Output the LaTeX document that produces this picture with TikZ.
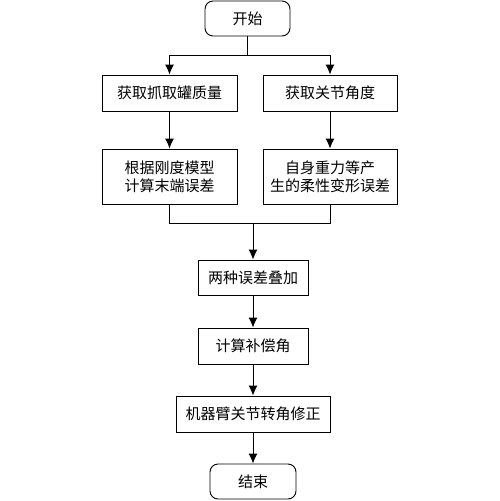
\documentclass[tikz,border=0pt]{standalone}
\usepackage{fontspec}
\newfontfamily\cjk{Noto Sans CJK SC}
\usetikzlibrary{arrows.meta}
\begin{document}
\begin{tikzpicture}[x=1pt,y=-1pt,
  box/.style={draw,line width=0.9pt,inner sep=0pt,font=\cjk\fontsize{15}{18}\selectfont,align=center},
  term/.style={box,rounded corners=8pt},
  arr/.style={line width=0.9pt,-{Latex[length=10pt,width=9pt]}},
  ln/.style={line width=0.9pt}]
\useasboundingbox (0,0) rectangle (500,501);
\node[term,minimum width=85pt,minimum height=35pt] (start) at (247.5,18.5) {开始};
\node[box,minimum width=135pt,minimum height=36pt] (l1) at (169.5,93) {获取抓取罐质量};
\node[box,minimum width=134pt,minimum height=36pt] (r1) at (330,93) {获取关节角度};
\node[box,minimum width=135pt,minimum height=55pt] (l2) at (169.5,176.5) {根据刚度模型\\计算末端误差};
\node[box,minimum width=134pt,minimum height=55pt] (r2) at (330,176.5) {自身重力等产\\生的柔性变形误差};
\node[box,minimum width=110pt,minimum height=35pt] (sum) at (253,277.5) {两种误差叠加};
\node[box,minimum width=110pt,minimum height=36pt] (comp) at (253,346) {计算补偿角};
\node[box,minimum width=154pt,minimum height=36pt] (fix) at (253,414) {机器臂关节转角修正};
\node[term,minimum width=86pt,minimum height=35pt] (end) at (253,481.5) {结束};
\coordinate (s) at (247.5,55);
\coordinate (m) at (253,223);
\draw[ln] (start.south) -- (s);
\draw[arr] (s) -| (l1.north);
\draw[arr] (s) -| (r1.north);
\draw[arr] (l1) -- (l2);
\draw[arr] (r1) -- (r2);
\draw[ln] (l2.south) |- (m);
\draw[ln] (r2.south) |- (m);
\draw[arr] (m) -- (sum.north);
\draw[arr] (sum) -- (comp);
\draw[arr] (comp) -- (fix);
\draw[arr] (fix) -- (end);
\end{tikzpicture}
\end{document}
